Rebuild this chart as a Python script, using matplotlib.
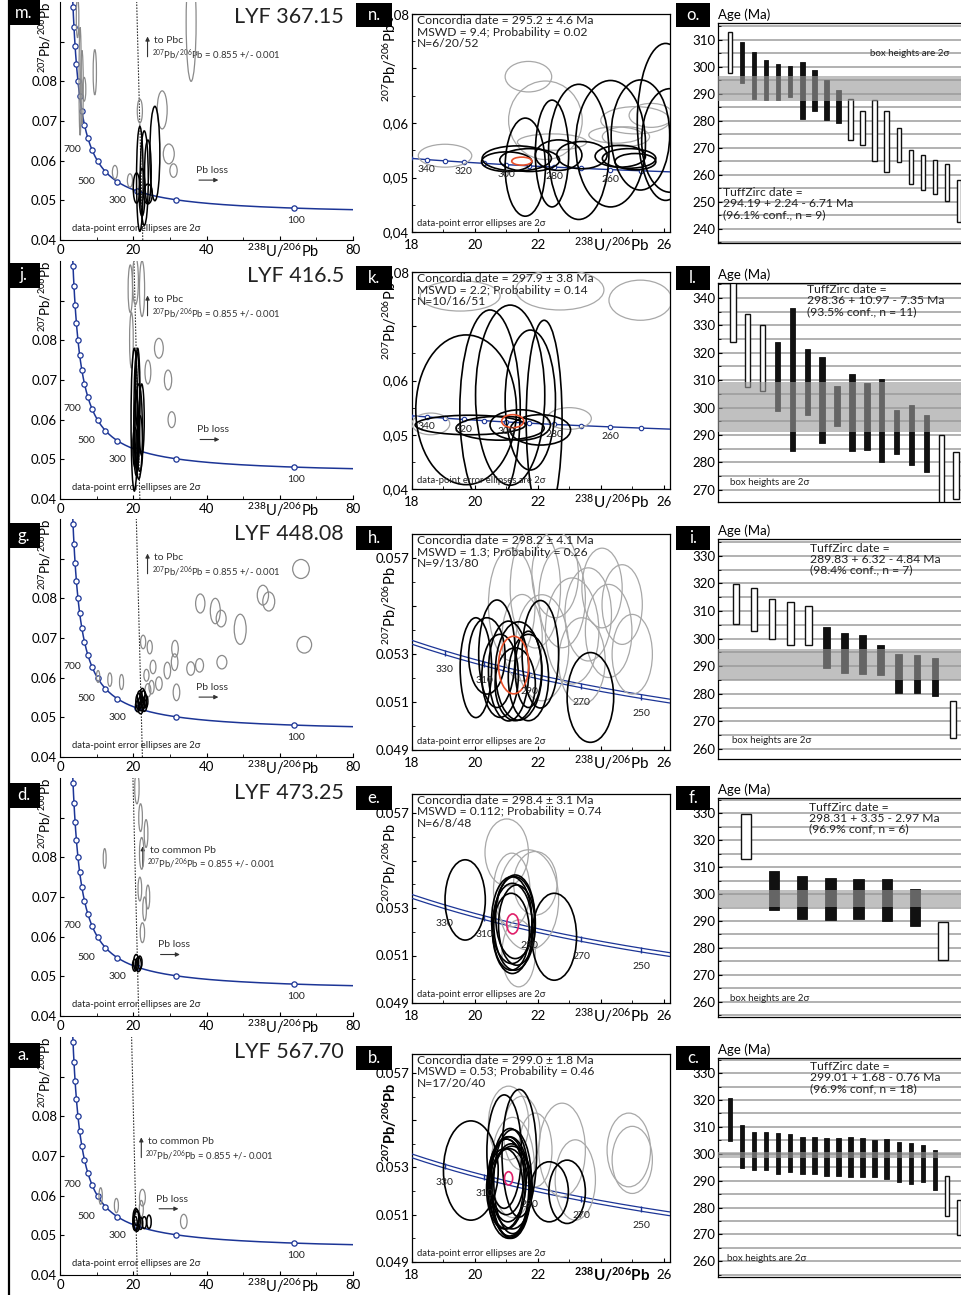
import numpy as np
import matplotlib
matplotlib.use('Agg')
import matplotlib.pyplot as plt
from matplotlib.patches import Ellipse, Rectangle
from matplotlib.lines import Line2D

plt.rcParams['font.family'] = ['Lato', 'DejaVu Sans']
plt.rcParams['mathtext.fontset'] = 'custom'
plt.rcParams['mathtext.rm'] = 'Lato'
plt.rcParams['mathtext.it'] = 'Lato:italic'
plt.rcParams['mathtext.bf'] = 'Lato:bold'

# ------------------------------------------------------------------ data
SAMPLES = ['LYF 367.15', 'LYF 416.5', 'LYF 448.08', 'LYF 473.25', 'LYF 567.70']
LETTERS = [('m.', 'n.', 'o.'), ('j.', 'k.', 'l.'), ('g.', 'h.', 'i.'),
           ('d.', 'e.', 'f.'), ('a.', 'b.', 'c.')]

CONC_AGES_WIDE = [100, 200, 300, 400, 500, 600, 700, 800, 900, 1000,
                  1100, 1200, 1300, 1400, 1500, 1600, 1700]
CONC_AGES_ZOOM = [250, 260, 270, 280, 290, 300, 310, 320, 330, 340, 350]
PBC_RATIO = 0.855

# x where the common-Pb line reaches 207/206 = 0.04 (column 1)
pbc_x40 = [22.6, 21.8, 22.5, 21.5, 21.1]

# column 1 ellipses: (x, y, half-width, half-height)
m_gray = [(4.8, 0.0960, 0.35, 0.0050), (5.5, 0.0800, 0.30, 0.0136), (6.0, 0.0785, 0.35, 0.0093),
          (6.6, 0.0780, 0.45, 0.0030), (9.5, 0.0823, 0.45, 0.0057), (35.8, 0.0949, 1.36, 0.0149),
          (27.9, 0.0728, 1.36, 0.0048), (29.7, 0.0617, 1.5, 0.0025), (31.0, 0.0575, 1.0, 0.0017),
          (15.0, 0.0571, 0.7, 0.0017), (19.1, 0.0550, 0.7, 0.0017), (21.8, 0.0725, 0.7, 0.0030)]
m_black = [(21.8, 0.0554, 0.9, 0.0132), (23.0, 0.0556, 1.1, 0.0119), (24.0, 0.0572, 0.9, 0.0080),
           (25.9, 0.0618, 1.36, 0.0119), (20.9, 0.0531, 0.9, 0.0038), (24.0, 0.0516, 1.2, 0.0025),
           (22.4, 0.0520, 0.8, 0.0060)]
j_gray = [(19.2, 0.0930, 0.6, 0.0060), (20.6, 0.0950, 0.8, 0.0060), (22.4, 0.0930, 0.7, 0.0070),
          (19.5, 0.0800, 0.5, 0.0070), (27.0, 0.0780, 1.2, 0.0025), (29.5, 0.0700, 1.0, 0.0025),
          (30.5, 0.0600, 1.0, 0.0020), (24.0, 0.0720, 0.8, 0.0030)]
j_black = [(20.3, 0.0600, 0.9, 0.0180), (21.0, 0.0620, 0.8, 0.0150), (21.5, 0.0570, 1.0, 0.0120),
           (20.8, 0.0560, 0.7, 0.0100), (21.8, 0.0540, 0.8, 0.0070), (20.5, 0.0530, 0.6, 0.0050),
           (22.3, 0.0600, 0.7, 0.0090), (21.2, 0.0680, 0.6, 0.0100)]
g_gray = [(65.8, 0.0874, 2.27, 0.0024), (55.4, 0.0808, 1.54, 0.0025), (57.0, 0.0792, 1.63, 0.0024),
          (66.7, 0.0683, 2.0, 0.0021), (38.3, 0.0787, 1.27, 0.0024), (42.4, 0.0768, 1.36, 0.0032),
          (44.0, 0.0749, 1.36, 0.0021), (49.2, 0.0722, 1.63, 0.0038), (44.2, 0.0639, 1.36, 0.0017),
          (38.1, 0.0631, 1.09, 0.0017), (35.7, 0.0623, 1.09, 0.0017), (31.4, 0.0673, 0.9, 0.0021),
          (31.3, 0.0639, 0.9, 0.0021), (29.3, 0.0618, 0.9, 0.0021), (31.8, 0.0563, 0.9, 0.0021),
          (27.0, 0.0585, 0.9, 0.0017), (25.4, 0.0627, 0.8, 0.0017), (22.7, 0.0690, 0.7, 0.0017),
          (24.5, 0.0677, 0.7, 0.0017), (23.6, 0.0606, 0.7, 0.0015), (25.0, 0.0576, 0.7, 0.0017),
          (16.8, 0.0589, 0.55, 0.0019), (13.6, 0.0595, 0.55, 0.0017), (10.4, 0.0603, 0.45, 0.0015),
          (24.0, 0.0568, 0.8, 0.0017)]
g_black = [(21.5, 0.0540, 0.8, 0.0020), (22.2, 0.0535, 0.9, 0.0018), (22.8, 0.0545, 0.8, 0.0022),
           (21.8, 0.0550, 0.7, 0.0017), (23.0, 0.0530, 0.7, 0.0015), (21.2, 0.0528, 0.6, 0.0014),
           (22.5, 0.0555, 0.7, 0.0018), (23.4, 0.0540, 0.6, 0.0016), (22.0, 0.0522, 0.7, 0.0013)]
d_gray = [(21.0, 0.0975, 0.6, 0.0040), (22.3, 0.0810, 0.6, 0.0040), (23.5, 0.0860, 0.5, 0.0035),
          (21.8, 0.0720, 0.5, 0.0030), (23.1, 0.0670, 0.5, 0.0030), (12.2, 0.0797, 0.4, 0.0025),
          (24.0, 0.0700, 0.5, 0.0030), (22.5, 0.0610, 0.6, 0.0025), (22.0, 0.0900, 0.5, 0.0035)]
d_black = [(20.8, 0.0535, 0.7, 0.0020), (21.4, 0.0530, 0.8, 0.0018), (20.4, 0.0528, 0.6, 0.0015),
           (21.8, 0.0535, 0.6, 0.0016)]
a_gray = [(11.1, 0.0599, 0.45, 0.0021), (15.4, 0.0575, 0.55, 0.0018), (22.5, 0.0595, 0.8, 0.0021),
          (22.2, 0.0567, 0.55, 0.0021), (33.8, 0.0535, 0.9, 0.0018)]
a_black = [(20.7, 0.0540, 0.8, 0.0028), (21.0, 0.0535, 0.9, 0.0025), (20.9, 0.0545, 0.7, 0.0020),
           (22.0, 0.0530, 0.6, 0.0015), (23.0, 0.0532, 0.6, 0.0015), (24.3, 0.0534, 0.6, 0.0017),
           (20.5, 0.0530, 0.6, 0.0018)]

# column 2 ellipses
n_gray = [(19.05, 0.0540, 0.85, 0.0021), (21.7, 0.0685, 0.74, 0.0028), (22.24, 0.0605, 1.17, 0.0072),
          (22.45, 0.0565, 1.1, 0.0015), (24.47, 0.0578, 0.85, 0.0015), (25.1, 0.0605, 1.1, 0.0025),
          (25.6, 0.0614, 0.7, 0.0022), (24.8, 0.0575, 0.75, 0.0018)]
n_black = [(21.01, 0.0529, 0.80, 0.0018), (21.74, 0.0532, 0.95, 0.0021), (21.6, 0.0519, 0.64, 0.0090),
           (22.45, 0.0544, 0.53, 0.0098), (23.3, 0.0547, 0.96, 0.0124), (24.31, 0.0562, 1.11, 0.0116),
           (25.26, 0.0578, 0.93, 0.0101), (26.06, 0.0602, 0.9, 0.0144), (22.66, 0.0541, 0.74, 0.0028),
           (23.4, 0.0541, 0.8, 0.0025), (24.62, 0.0539, 0.8, 0.0020), (24.9, 0.0535, 0.85, 0.0018),
           (25.1, 0.0529, 0.65, 0.0015), (21.33, 0.0535, 1.1, 0.0023), (26.2, 0.0568, 0.9, 0.0095)]
n_red = (21.49, 0.0530, 0.32, 0.00074)
k_gray = [(19.53, 0.0756, 1.27, 0.0028), (22.7, 0.0767, 1.4, 0.0037), (25.26, 0.0748, 1.0, 0.0037),
          (18.6, 0.0520, 0.6, 0.0020), (23.0, 0.0530, 0.7, 0.0020)]
k_black = [(19.72, 0.0546, 1.6, 0.0138), (21.12, 0.0573, 1.1, 0.0166), (21.76, 0.0564, 0.8, 0.0129),
           (20.48, 0.0546, 0.96, 0.0184), (19.85, 0.0518, 1.75, 0.0018), (20.8, 0.0512, 1.4, 0.0022),
           (21.44, 0.0518, 0.96, 0.0028), (22.08, 0.0509, 0.96, 0.0028), (22.2, 0.0527, 0.57, 0.0184)]
k_red = (21.2, 0.0525, 0.35, 0.0012)
h_gray = [(21.17, 0.05506, 0.74, 0.00235), (21.92, 0.05575, 0.80, 0.00250), (22.77, 0.05534, 0.74, 0.00208),
          (23.09, 0.05396, 0.85, 0.00221), (23.60, 0.05465, 0.74, 0.00194), (24.25, 0.05396, 0.74, 0.00194),
          (24.68, 0.05506, 0.64, 0.00166), (25.00, 0.05299, 0.64, 0.00166), (22.13, 0.05326, 0.85, 0.00221),
          (22.55, 0.05631, 0.74, 0.00180), (23.40, 0.05271, 0.74, 0.00180), (21.50, 0.05368, 0.64, 0.00180),
          (24.04, 0.05575, 0.64, 0.00166)]
h_black = [(20.03, 0.05243, 0.50, 0.00208), (20.70, 0.05301, 0.58, 0.00224), (20.38, 0.05292, 0.58, 0.00159),
           (21.07, 0.05229, 0.64, 0.00208), (20.80, 0.05209, 0.58, 0.00173), (21.39, 0.05229, 0.74, 0.00205),
           (22.08, 0.05299, 0.58, 0.00224), (21.70, 0.05236, 0.42, 0.00159), (23.67, 0.05119, 0.74, 0.00187),
           (21.28, 0.05174, 0.64, 0.00152), (21.70, 0.05202, 0.64, 0.00180)]
h_red = (21.23, 0.05254, 0.48, 0.00120)
e_gray = [(21.01, 0.05534, 0.69, 0.00141), (21.92, 0.05404, 0.69, 0.00134), (21.70, 0.05334, 0.96, 0.00211),
          (21.39, 0.05109, 0.53, 0.00141), (21.17, 0.05376, 0.58, 0.00155)]
e_black = [(19.69, 0.05334, 0.64, 0.00169), (22.52, 0.05179, 0.71, 0.00183), (21.17, 0.05249, 0.64, 0.00183),
           (21.26, 0.05235, 0.66, 0.00197), (21.19, 0.05214, 0.64, 0.00190), (21.28, 0.05263, 0.62, 0.00176),
           (21.15, 0.05200, 0.58, 0.00162), (21.33, 0.05228, 0.58, 0.00169)]
e_red = (21.20, 0.05233, 0.19, 0.00042)
b_gray = [(21.07, 0.05488, 0.64, 0.00156), (21.49, 0.05445, 0.58, 0.00156), (21.92, 0.05374, 0.53, 0.00156),
          (22.77, 0.05374, 0.74, 0.00198), (23.19, 0.05247, 0.64, 0.00170), (24.89, 0.05374, 0.69, 0.00156),
          (25.00, 0.05332, 0.64, 0.00142), (21.20, 0.05300, 0.69, 0.00212)]
b_black = [(19.87, 0.05287, 0.87, 0.00210), (20.93, 0.05367, 0.55, 0.00240), (21.41, 0.05360, 0.55, 0.00270),
           (22.36, 0.05197, 0.61, 0.00127), (22.93, 0.05197, 0.58, 0.00134), (21.00, 0.05230, 0.60, 0.00190),
           (21.10, 0.05220, 0.64, 0.00210), (21.05, 0.05250, 0.58, 0.00180), (21.15, 0.05200, 0.62, 0.00200),
           (20.95, 0.05210, 0.58, 0.00170), (21.20, 0.05240, 0.60, 0.00220), (21.08, 0.05190, 0.66, 0.00190),
           (21.00, 0.05260, 0.56, 0.00160), (21.18, 0.05215, 0.64, 0.00175), (21.12, 0.05235, 0.60, 0.00230)]
b_red = (21.07, 0.05254, 0.13, 0.00028)

conc_text = [('Concordia date = 295.2 ± 4.6 Ma', 'MSWD = 9.4; Probability = 0.02', 'N=6/20/52'),
             ('Concordia date = 297.9 ± 3.8 Ma', 'MSWD = 2.2; Probability = 0.14', 'N=10/16/51'),
             ('Concordia date = 298.2 ± 4.1 Ma', 'MSWD = 1.3; Probability = 0.26', 'N=9/13/80'),
             ('Concordia date = 298.4 ± 3.1 Ma', 'MSWD = 0.112; Probability = 0.74', 'N=6/8/48'),
             ('Concordia date = 299.0 ± 1.8 Ma', 'MSWD = 0.53; Probability = 0.46', 'N=17/20/40')]

# column 3: weighted-age boxes (Ma)
o_top = [312.7, 309.0, 305.3, 302.6, 301.1, 300.4, 301.9, 298.7, 295.2, 291.5,
         288.1, 283.6, 287.8, 283.5, 277.3, 269.1, 267.4, 265.4, 264.2, 258.0]
o_bot = [297.7, 294.0, 288.1, 287.6, 287.6, 288.8, 280.7, 283.6, 280.2, 279.2,
         273.0, 271.1, 265.1, 261.0, 264.6, 256.5, 254.5, 252.8, 250.3, 242.7]
o_used = [0, 1, 1, 1, 1, 1, 1, 1, 1, 1, 0, 0, 0, 0, 0, 0, 0, 0, 0, 0]
l_top = [350.0, 334.0, 330.0, 324.0, 336.3, 321.3, 318.4, 307.9, 312.3, 308.9, 310.5, 299.1, 300.9, 297.3, 289.9, 283.6]
l_bot = [324.1, 307.4, 306.1, 298.9, 284.2, 297.1, 286.9, 293.4, 284.2, 284.4, 280.2, 283.1, 279.1, 276.5, 264.0, 266.5]
l_used = [0, 0, 0, 1, 1, 1, 1, 1, 1, 1, 1, 1, 1, 1, 0, 0]
i_top = [319.8, 318.4, 314.5, 313.4, 312.0, 304.1, 301.9, 301.3, 297.6, 294.6, 293.9, 293.0, 277.3]
i_bot = [305.2, 302.6, 300.0, 297.8, 297.6, 289.3, 287.4, 287.1, 286.9, 280.4, 280.4, 279.4, 263.9]
i_used = [0, 0, 0, 0, 0, 1, 1, 1, 1, 1, 1, 1, 0]
f_top = [329.8, 308.7, 306.5, 306.0, 305.7, 305.7, 302.0, 289.6]
f_bot = [313.1, 294.1, 290.8, 290.3, 290.8, 290.1, 288.1, 275.5]
f_used = [0, 1, 1, 1, 1, 1, 1, 0]
c_top = [320.8, 310.7, 308.2, 308.2, 307.7, 307.4, 306.2, 306.2, 306.0, 305.7,
         306.2, 305.7, 305.2, 305.5, 304.5, 304.0, 303.2, 301.3, 291.6, 282.7]
c_bot = [304.7, 294.6, 293.8, 294.1, 292.6, 293.3, 292.6, 292.3, 291.8, 291.6,
         291.3, 291.3, 291.3, 290.6, 289.4, 288.9, 289.4, 286.4, 277.0, 269.8]
c_used = [1] * 18 + [0, 0]

tuff_date = [294.19, 298.36, 289.83, 298.31, 299.01]
tuff_plus = [2.24, 10.97, 6.32, 3.35, 1.68]
tuff_minus = [6.71, 7.35, 4.84, 2.97, 0.76]
tuff_conf = ['(96.1% conf., n = 9)', '(93.5% conf., n = 11)', '(98.4% conf., n = 7)',
             '(96.9% conf, n = 6)', '(96.9% conf, n = 18)']

# ------------------------------------------------------------------ helpers
W, H = 962, 1295
fig = plt.figure(figsize=(W / 100, H / 100), dpi=100)
BLUE = '#1c3596'

L238, L235, U85 = 1.55125e-10, 9.8485e-10, 137.818


def tw(ages):
    t = np.asarray(ages, float) * 1e6
    e8 = np.expm1(L238 * t)
    e5 = np.expm1(L235 * t)
    return 1.0 / e8, e5 / e8 / U85


def ax_px(l, t, r, b):
    return fig.add_axes([l / W, 1 - b / H, (r - l) / W, (b - t) / H])


def letter_box(x, y, w, h, s):
    fig.patches.append(Rectangle((x / W, 1 - (y + h) / H), w / W, h / H, transform=fig.transFigure,
                                 facecolor='black', edgecolor='none', zorder=10))
    fig.text((x + w / 2) / W, 1 - (y + h / 2) / H, s, color='white', fontsize=12,
             ha='center', va='center', zorder=11)


def add_ell(ax, lst, color, lw, z):
    for (x, y, hw, hh) in lst:
        ax.add_patch(Ellipse((x, y), 2 * hw, 2 * hh, fill=False, edgecolor=color, lw=lw, zorder=z))


PB = r'$^{207}$Pb/$^{206}$Pb'
UPB = r'$^{238}$U/$^{206}$Pb'

# ------------------------------------------------------------------ column 1
col1_bottom = [240, 499, 757, 1016, 1275]
col1_gray = [m_gray, j_gray, g_gray, d_gray, a_gray]
col1_black = [m_black, j_black, g_black, d_black, a_black]
pbc_label = ['to Pbc', 'to Pbc', 'to Pbc', 'to common Pb', 'to common Pb']
pbc_pos = [(23.9, 0.0855), (23.9, 0.0855), (23.9, 0.0855), (22.6, 0.0770), (22.2, 0.0689)]
pbloss_pos = [(37.2, 0.0551), (37.5, 0.0550), (37.2, 0.0551), (26.7, 0.0555), (26.3, 0.0567)]

for r in range(5):
    b = col1_bottom[r]
    ax = ax_px(60, b - 238, 353, b)
    for s in ['top', 'right']:
        ax.spines[s].set_visible(False)
    ax.set_xticks([0, 20, 40, 60, 80])
    ax.set_xticklabels(['0', '20', '40', '', '80'])
    ax.set_xticks([10, 30, 50, 70], minor=True)
    ax.set_yticks([0.04, 0.05, 0.06, 0.07, 0.08, 0.09])
    ax.set_yticklabels(['0.04', '0.05', '0.06', '0.07', '0.08', ''])
    ax.set_xlim(0, 80)
    ax.set_ylim(0.04, 0.10)
    ax.tick_params(labelsize=9.5, direction='in', length=3, pad=2)
    ax.tick_params(axis='x', pad=3)
    ax.tick_params(which='minor', direction='in', length=2)
    # concordia
    ages = np.linspace(60, 1800, 400)
    cx, cy = tw(ages)
    ax.plot(cx, cy, color=BLUE, lw=1.1, zorder=3)
    mx, my = tw(CONC_AGES_WIDE)
    ax.plot(mx, my, 'o', ms=3.8, mfc='white', mec=BLUE, mew=0.9, zorder=4)
    for age, dx, dy in [(700, -2.8, 0.0), (500, -2.9, -0.0025), (300, -2.8, -0.0024), (100, 0.5, -0.0030)]:
        px, py = tw([age])
        ax.text(px[0] + dx, py[0] + dy, str(age), fontsize=7.5, ha='right' if age != 100 else 'center',
                va='center', color='#222')
    # common Pb line
    yy = np.array([0.04, 0.10])
    xx = pbc_x40[r] * (PBC_RATIO - yy) / (PBC_RATIO - 0.04)
    ax.plot(xx, yy, color='#333', lw=0.8, ls=(0, (1.5, 1.2)), zorder=2)
    add_ell(ax, col1_gray[r], '#8a8a8a', 0.9, 5)
    add_ell(ax, col1_black[r], 'black', 1.1, 6)
    # annotations
    ax0, ay0 = pbc_pos[r]
    ax.annotate('', xy=(ax0, ay0 + 0.0065), xytext=(ax0, ay0),
                arrowprops=dict(arrowstyle='-|>', color='#333', lw=0.8, mutation_scale=6))
    ax.text(ax0 + 1.9, ay0 + 0.0047, pbc_label[r], fontsize=7.5, color='#333', va='center')
    ax.text(ax0 + 1.1, ay0 + 0.0013, r'$^{207}$Pb/$^{206}$Pb = 0.855 +/- 0.001', fontsize=6.8,
            color='#333', va='center')
    lx, ly = pbloss_pos[r]
    ax.text(lx, ly + 0.0024, 'Pb loss', fontsize=7.5, color='#333', va='center')
    ax.annotate('', xy=(lx + 6.8, ly), xytext=(lx, ly),
                arrowprops=dict(arrowstyle='-|>', color='#333', lw=0.8, mutation_scale=6))
    ax.text(3.2, 0.0428, 'data-point error ellipses are 2σ', fontsize=6.8, color='#222', va='center')
    ax.text(77.5, 0.0963, SAMPLES[r], fontsize=15.5, ha='right', va='center', color='#222')
    ax.text(-0.05, 1.0, PB, transform=ax.transAxes, rotation=90, fontsize=9.5, ha='center', va='top')
    ax.text(0.76, -0.008, UPB, transform=ax.transAxes, fontsize=10.5, ha='center', va='top')

# ------------------------------------------------------------------ column 2
col2_box = [(14, 232), (272, 489), (534, 750), (794, 1003), (1054, 1262)]
col2_ylim = [(0.04, 0.08), (0.04, 0.08), (0.049, 0.058), (0.049, 0.0578), (0.049, 0.0578)]
col2_gray = [n_gray, k_gray, h_gray, e_gray, b_gray]
col2_black = [n_black, k_black, h_black, e_black, b_black]
col2_red = [n_red, k_red, h_red, e_red, b_red]
red_col = ['#e8502a', '#e8502a', '#e8502a', '#e0206a', '#e0206a']

for r in range(5):
    t, b = col2_box[r]
    ax = ax_px(412, t, 670, b)
    wide = r < 2
    ax.set_xticks([18, 20, 22, 24, 26])
    ax.set_xticklabels(['18', '20', '22', '', '26'])
    ax.set_xticks([19, 21, 23, 25], minor=True)
    if wide:
        ax.set_yticks([0.04, 0.05, 0.06, 0.07, 0.08])
        ax.set_yticklabels(['0,04', '0,05', '0,06', '', '0,08'])
        ax.set_yticks([0.045, 0.055, 0.065, 0.075], minor=True)
    else:
        ax.set_yticks([0.049, 0.051, 0.053, 0.055, 0.057])
        ax.set_yticklabels(['0.049', '0.051', '0.053', '', '0.057'])
        ax.set_yticks([0.050, 0.052, 0.054, 0.056], minor=True)
    ax.set_xlim(18, 26.2)
    y0, y1 = col2_ylim[r]
    ax.set_ylim(y0, y1)
    ax.tick_params(labelsize=9.5, direction='in', length=3, pad=2)
    ax.tick_params(axis='x', pad=5)
    ax.tick_params(which='minor', direction='in', length=2)
    for s in ax.spines.values():
        s.set_linewidth(0.9)
    ages = np.linspace(200, 400, 200)
    cx, cy = tw(ages)
    if wide:
        ax.plot(cx, cy, color=BLUE, lw=1.0, zorder=3)
        mx, my = tw(CONC_AGES_ZOOM)
        ax.plot(mx, my, 'o', ms=3.2, mfc='white', mec=BLUE, mew=0.8, zorder=4)
        lab_ages = [340, 320, 300, 280, 260]
        dy = -0.0018
    else:
        ax.plot(cx, cy + 0.00008, color=BLUE, lw=0.9, zorder=3)
        ax.plot(cx, cy - 0.00008, color=BLUE, lw=0.9, zorder=3)
        lab_ages = [330, 310, 290, 270, 250]
        mx, my = tw(lab_ages)
        ax.plot(mx, my, '|', ms=4, color=BLUE, mew=1.0, zorder=4)
        dy = -0.0007
    for age in lab_ages:
        px, py = tw([age])
        ax.text(px[0], py[0] + dy, str(age), fontsize=7.5, ha='center', va='center', color='#222', zorder=8)
    add_ell(ax, col2_gray[r], '#a8a8a8', 0.9, 5)
    add_ell(ax, col2_black[r], 'black', 1.2, 6)
    add_ell(ax, [col2_red[r]], red_col[r], 1.2, 7)
    l1, l2, l3 = conc_text[r]
    ax.text(0.02, 0.995, l1 + '\n' + l2 + '\n' + l3, transform=ax.transAxes, fontsize=8.7,
            va='top', ha='left', linespacing=1.05, color='#222', zorder=9)
    ax.text(0.02, 0.04, 'data-point error ellipses are 2σ', transform=ax.transAxes, fontsize=6.8,
            va='center', color='#222', zorder=9)
    wt = 'bold' if r == 4 else 'normal'
    if wide:
        ax.text(-0.085, 0.955, PB, transform=ax.transAxes, rotation=90, fontsize=10.5,
                ha='center', va='top')
    else:
        ax.text(-0.085, 0.67, PB if r < 4 else r'$\mathbf{^{207}Pb/^{206}Pb}$', transform=ax.transAxes,
                rotation=90, fontsize=10.5, ha='center', va='center', fontweight=wt)
    ax.text(0.775, -0.015, UPB if r < 4 else r'$\mathbf{^{238}U/^{206}Pb}$', transform=ax.transAxes,
            fontsize=11, ha='center', va='top', fontweight=wt)

# ------------------------------------------------------------------ column 3
col3_box = [(23, 243), (283, 502), (539, 759), (798, 1017), (1058, 1277)]
col3_ylim = [(234.8, 316.2), (265.5, 345.5), (256.4, 336.1), (254.4, 335.6), (254.2, 335.6)]
col3_top = [o_top, l_top, i_top, f_top, c_top]
col3_bot = [o_bot, l_bot, i_bot, f_bot, c_bot]
col3_used = [o_used, l_used, i_used, f_used, c_used]
tz_pos = [(0.4, 255.5), (6.0, 345.0), (5.1, 334.8), (3.25, 334.3), (7.6, 334.3)]
bh_pos = [(12.6, 305.0), (0.8, 272.5), (0.78, 263.2), (0.43, 261.2), (0.75, 261.0)]

for r in range(5):
    t, b = col3_box[r]
    ax = ax_px(718, t, 971, b)
    tops = np.array(col3_top[r])
    bots = np.array(col3_bot[r])
    used = np.array(col3_used[r], bool)
    n = len(tops)
    x = np.arange(1, n + 1)
    y0, y1 = col3_ylim[r]
    ax.set_xticks([])
    ax.set_yticks([v for v in range(240, 350, 10) if y0 < v < y1])
    ax.set_yticks([v for v in range(235, 350, 5) if y0 < v < y1], minor=True)
    ax.set_xlim(0, n + 1)
    ax.set_ylim(y0, y1)
    ax.tick_params(labelsize=9.5, direction='in', length=3, pad=2)
    ax.tick_params(which='minor', direction='in', length=2)
    for v in range(235, 350, 5):
        if y0 < v < y1:
            ax.axhline(v, color='#9c9c9c', lw=1.1, zorder=1)
    ax.bar(x[used], (tops - bots)[used], bottom=bots[used], width=0.36, color='#111', edgecolor='#111',
           lw=0.6, zorder=2)
    ax.bar(x[~used], (tops - bots)[~used], bottom=bots[~used], width=0.36, color='white',
           edgecolor='#111', lw=1.0, zorder=2)
    lo = tuff_date[r] - tuff_minus[r]
    hi = tuff_date[r] + tuff_plus[r]
    ax.axhspan(lo, hi, color='#9a9a9a', alpha=0.62, lw=0, zorder=3)
    ax.set_ylim(y0, y1)
    for s in ax.spines.values():
        s.set_linewidth(0.9)
    tx, ty = tz_pos[r]
    ax.text(tx, ty, 'TuffZirc date =\n%.2f + %.2f - %.2f Ma\n%s' % (tuff_date[r], tuff_plus[r], tuff_minus[r],
                                                                   tuff_conf[r]),
            fontsize=8.7, va='top', ha='left', linespacing=1.0, color='#222', zorder=6)
    bx, by = bh_pos[r]
    ax.text(bx, by, 'box heights are 2σ', fontsize=7, va='center', ha='left', color='#222', zorder=6)
    ax.text(0.0, 1.01, 'Age (Ma)', transform=ax.transAxes, fontsize=9.5, ha='left', va='bottom')

# ------------------------------------------------------------------ panel letters and frame
row_label_top = [0, 263, 523, 783, 1043]
for r in range(5):
    yt = row_label_top[r]
    letter_box(8, yt, 32, 25, LETTERS[r][0])
    letter_box(356, yt + 3, 36, 24, LETTERS[r][1])
    letter_box(676, yt + 3, 34, 24, LETTERS[r][2])

fig.add_artist(Line2D([9 / W, 9 / W], [0, 1], transform=fig.transFigure, color='black', lw=1.6))

fig.savefig('out.png', dpi=100)
